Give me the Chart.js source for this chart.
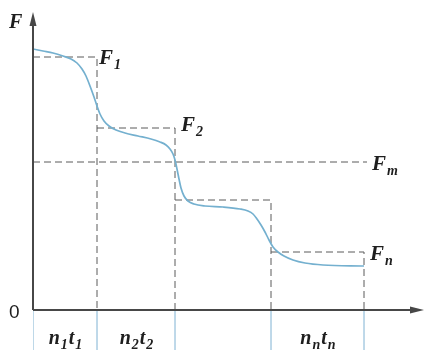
<!DOCTYPE html>
<html>
<head>
<meta charset="utf-8">
<script src="https://cdn.jsdelivr.net/npm/chart.js@4"></script>
<style>
  html, body { margin: 0; padding: 0; background: #fff; }
  #wrap { width: 425px; height: 350px; }
</style>
</head>
<body>
<div id="wrap"><canvas id="chart"></canvas></div>
<script>
// load curve F(t) (t along x, F along y)
const curveT = [0, 10, 20, 30, 38, 44, 49, 53, 57, 61, 64, 67, 71, 76, 83, 92, 105, 118, 127, 133, 137, 140, 142, 144, 146, 148, 151, 155, 161, 172, 190, 207, 215, 220, 224, 228, 232, 236, 240, 245, 251, 260, 272, 290, 331];
const curveF = [261, 259, 257, 254, 251, 247, 241, 234, 224, 213, 204, 196, 189, 184, 180, 177, 174, 171, 168, 165, 161, 156, 150, 141, 131, 122, 114, 109, 106, 104, 103, 101, 99, 96, 91, 85, 78, 70, 63, 58, 54, 50, 47, 45, 44];

// equivalent steps F1, F2, ..., Fn
const stepStart = [0, 64, 142, 238];
const stepEnd   = [64, 142, 238, 331];
const stepLevel = [253, 182, 110, 58];
const stepSub   = ['1', '2', '', 'n'];
const periodSub = ['1', '2', '', 'n'];

const meanLevel = 148;
const meanEnd   = 334;

const boundaries = [0, 64, 142, 238, 331];

const DASH = '#5a5a5a';
const AXIS = '#474747';
const CURVE = '#74b0cf';
const GUIDE = '#b5d3e6';

const datasets = [];
datasets.push({
  label: 'F',
  data: curveT.map((t, i) => ({ x: t, y: curveF[i] })),
  borderColor: CURVE,
  borderWidth: 1.7,
  cubicInterpolationMode: 'monotone',
  pointRadius: 0,
  order: 0
});
stepLevel.forEach((lv, i) => {
  datasets.push({
    label: 'step' + i,
    data: [{ x: stepStart[i], y: lv }, { x: stepEnd[i], y: lv }, { x: stepEnd[i], y: 0 }],
    borderColor: DASH, borderWidth: 1, borderDash: [7, 4],
    pointRadius: 0, tension: 0, order: 2
  });
});
datasets.push({
  label: 'Fm',
  data: [{ x: 0, y: meanLevel }, { x: meanEnd, y: meanLevel }],
  borderColor: DASH, borderWidth: 1, borderDash: [7, 4],
  pointRadius: 0, tension: 0, order: 2
});
boundaries.forEach((b, i) => {
  datasets.push({
    label: 'guide' + i,
    data: [{ x: b, y: 0 }, { x: b, y: -40 }],
    borderColor: GUIDE, borderWidth: 1,
    pointRadius: 0, tension: 0, order: 3
  });
});

function subText(ctx, main, sub, x, y, size) {
  ctx.font = 'italic bold ' + size + 'px "Liberation Serif", serif';
  ctx.fillText(main, x, y);
  const w = ctx.measureText(main).width;
  if (sub) {
    ctx.font = 'italic bold ' + Math.round(size * 0.68) + 'px "Liberation Serif", serif';
    ctx.fillText(sub, x + w + 1, y + size * 0.25);
    return w + 1 + ctx.measureText(sub).width;
  }
  return w;
}

const figurePlugin = {
  id: 'figure',
  afterDatasetsDraw(chart) {
    const ctx = chart.ctx;
    const xs = chart.scales.x, ys = chart.scales.y;
    const x0 = xs.getPixelForValue(0), y0 = ys.getPixelForValue(0);
    const yTop = ys.getPixelForValue(ys.max);
    const xEnd = xs.getPixelForValue(xs.max) - 1;
    ctx.save();
    ctx.strokeStyle = AXIS; ctx.fillStyle = AXIS; ctx.lineWidth = 2;
    ctx.beginPath();
    ctx.moveTo(x0, y0); ctx.lineTo(x0, yTop + 8);
    ctx.moveTo(x0, y0); ctx.lineTo(xEnd - 8, y0);
    ctx.stroke();
    ctx.beginPath();
    ctx.moveTo(x0, yTop); ctx.lineTo(x0 - 3.5, yTop + 14); ctx.lineTo(x0 + 3.5, yTop + 14); ctx.closePath();
    ctx.fill();
    ctx.beginPath();
    ctx.moveTo(xEnd, y0); ctx.lineTo(xEnd - 14, y0 - 3.5); ctx.lineTo(xEnd - 14, y0 + 3.5); ctx.closePath();
    ctx.fill();

    ctx.fillStyle = '#1e1e1e';
    ctx.textBaseline = 'alphabetic';
    // axis names
    subText(ctx, 'F', '', 9, 28, 20);
    ctx.font = '19px "Liberation Sans", sans-serif';
    ctx.fillText('0', 9, y0 + 8);

    // step labels
    const offs = [[2, 7], [6, 3], null, [6, 8]];
    stepLevel.forEach((lv, i) => {
      if (!stepSub[i]) return;
      const px = xs.getPixelForValue(stepEnd[i]) + offs[i][0];
      const py = ys.getPixelForValue(lv) + offs[i][1];
      subText(ctx, 'F', stepSub[i], px, py, 21);
    });
    subText(ctx, 'F', 'm', xs.getPixelForValue(meanEnd) + 5, ys.getPixelForValue(meanLevel) + 8, 21);

    // period labels n_i t_i
    periodSub.forEach((s, i) => {
      if (!s) return;
      const mid = xs.getPixelForValue((stepStart[i] + stepEnd[i]) / 2);
      ctx.font = 'italic bold 20px "Liberation Serif", serif';
      const wn = ctx.measureText('n').width, wt = ctx.measureText('t').width;
      ctx.font = 'italic bold 14px "Liberation Serif", serif';
      const ws = ctx.measureText(s).width;
      let x = mid - (wn + wt + 2 * ws + 2) / 2;
      x += subText(ctx, 'n', s, x, 344, 20) + 1;
      subText(ctx, 't', s, x, 344, 20);
    });
    ctx.restore();
  }
};

new Chart(document.getElementById('chart'), {
  type: 'line',
  data: { datasets },
  options: {
    responsive: true,
    maintainAspectRatio: false,
    animation: false,
    layout: { padding: { left: 33, top: 12, right: 0, bottom: 0 } },
    plugins: { legend: { display: false }, tooltip: { enabled: false } },
    scales: {
      x: { type: 'linear', min: 0, max: 392, display: false },
      y: { type: 'linear', min: -40, max: 298, display: false }
    }
  },
  plugins: [figurePlugin]
});
</script>
</body>
</html>
